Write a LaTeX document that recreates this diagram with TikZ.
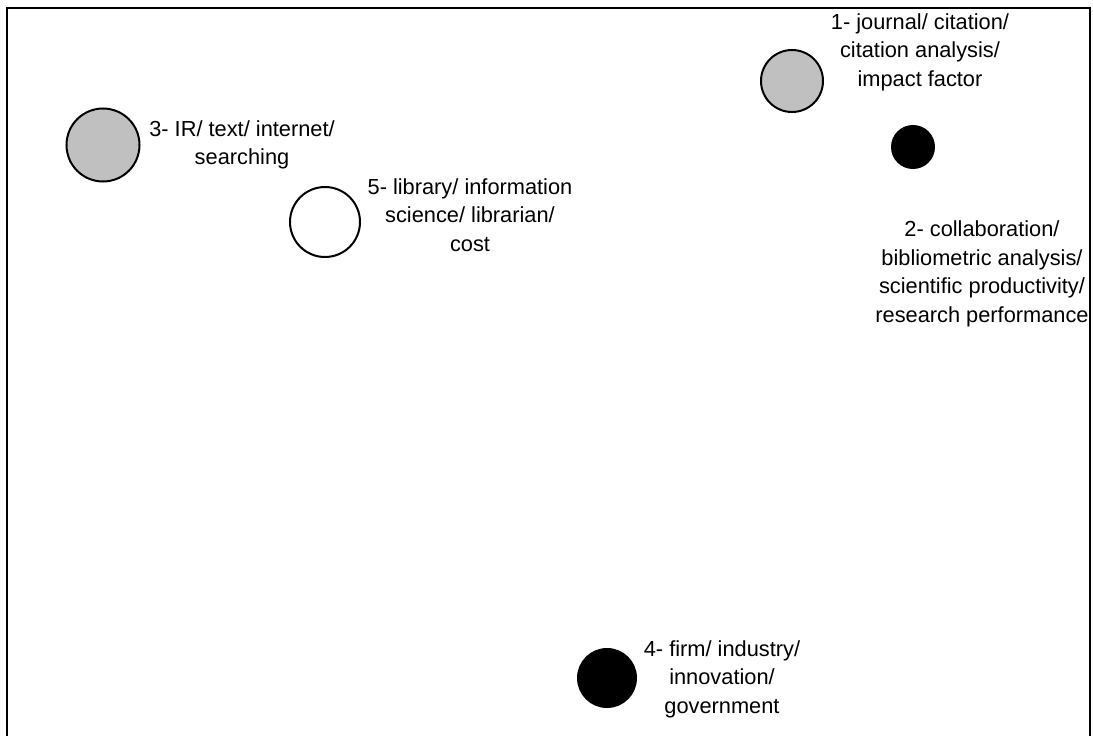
\documentclass[tikz,border=0pt]{standalone}
\usepackage{fontspec}
\setmainfont{Liberation Sans}
\definecolor{bubblegrey}{RGB}{192,192,192}
\begin{document}
\begin{tikzpicture}[x=1pt,y=-1pt,
  bubble/.style={circle,draw=black,line width=2pt,inner sep=0pt},
  lbl/.style={align=center,inner sep=0pt,font=\fontsize{21.8}{28.5}\selectfont}]
\useasboundingbox (0,0) rectangle (1093,736);
\draw[line width=1.5pt] (7,736) -- (7,8) -- (1090,8) -- (1090,736);
% bubbles
\node[bubble,fill=bubblegrey,minimum size=62pt] (b1) at (792,81) {};
\node[bubble,fill=black,minimum size=42pt] (b2) at (913,147) {};
\node[bubble,fill=bubblegrey,minimum size=73pt] (b3) at (103,145) {};
\node[bubble,fill=black,minimum size=58pt] (b4) at (607,678) {};
\node[bubble,fill=white,minimum size=70pt] (b5) at (325,222) {};
% labels
\node[lbl] (l1) at (920,52) {1- journal/ citation/\\citation analysis/\\impact factor};
\node[lbl] (l2) at (982,274) {2- collaboration/\\bibliometric analysis/\\scientific productivity/\\research performance};
\node[lbl] (l3) at (242,145) {3- IR/ text/ internet/\\searching};
\node[lbl] (l5) at (470,215) {5- library/ information\\science/ librarian/\\cost};
\node[lbl] (l4) at (722,679) {4- firm/ industry/\\innovation/\\government};
\end{tikzpicture}
\end{document}
